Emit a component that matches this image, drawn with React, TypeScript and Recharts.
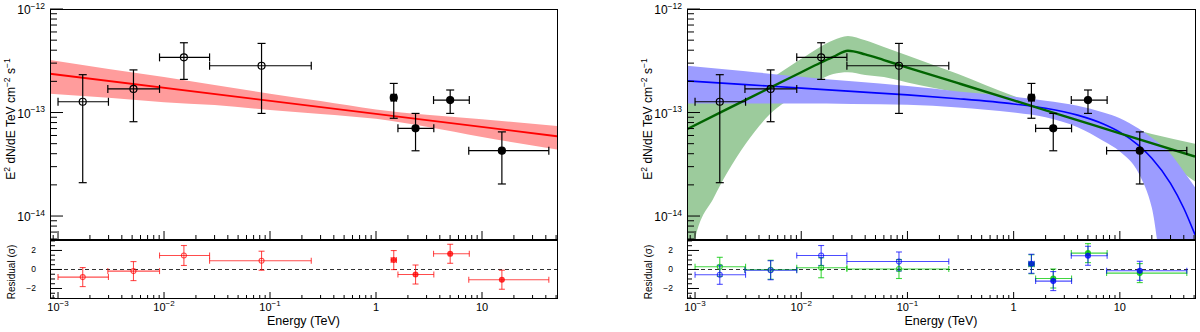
import React from 'react';
import { ComposedChart, Area, Line, Scatter, XAxis, YAxis, ErrorBar, ReferenceLine } from 'recharts';

const FONT = '"Liberation Sans", Arial, Helvetica, sans-serif';

// ---- flux points (energy in TeV, E^2 dN/dE in TeV cm^-2 s^-1) ----
const energy = [0.00171, 0.00515, 0.0154, 0.0832, 1.47, 2.36, 5.01, 15.4];
const energyLo = [0.001, 0.00295, 0.00907, 0.0269, 1.39, 1.61, 3.49, 7.5];
const energyHi = [0.00299, 0.00907, 0.0269, 0.245, 1.56, 3.51, 7.59, 42.7];
const flux = [1.27e-13, 1.69e-13, 3.41e-13, 2.83e-13, 1.39e-13, 7.03e-14, 1.32e-13, 4.28e-14];
const fluxLo = [2.1e-14, 8.15e-14, 2.09e-13, 9.8e-14, 8.8e-14, 4.27e-14, 9.8e-14, 2.04e-14];
const fluxHi = [2.32e-13, 2.58e-13, 4.72e-13, 4.65e-13, 1.91e-13, 9.8e-14, 1.65e-13, 6.5e-14];
const openMarker = [true, true, true, true, false, false, false, false];

// ---- residuals (sigma) ----
const resPowerLaw = [-0.8, -0.17, 1.47, 0.92, 0.99, -0.53, 1.65, -1.08];
const resCutoff = [-0.56, -0.08, 1.47, 0.84, 0.6, -1.22, 1.44, -0.14];
const resBroken = [0.28, -0.03, 0.18, 0.05, 0.55, -0.95, 1.72, -0.38];
const resSigma = [1, 1, 1.05, 1, 1, 1, 1, 1];

// ---- power law fit (left) ----
const plE = [0.00084, 51];
const plF = [2.37e-13, 5.9e-14];
const plBandE = [0.00084, 0.003, 0.01, 0.03, 0.1, 0.3, 1, 3, 10, 51];
const plBandLo = [1.52e-13, 1.39e-13, 1.26e-13, 1.18e-13, 1.06e-13, 9.7e-14, 8.7e-14, 7.3e-14, 5.8e-14, 4.4e-14];
const plBandHi = [3.22e-13, 2.63e-13, 2.2e-13, 1.84e-13, 1.52e-13, 1.29e-13, 1.07e-13, 9.5e-14, 8.6e-14, 7.4e-14];

// ---- power law with cutoff (right, blue) ----
const ecE = [0.00084, 0.003, 0.01, 0.03, 0.1, 0.3, 1, 2, 4, 7, 10, 15, 20, 30, 40, 51];
const ecF = [2.02e-13, 1.86e-13, 1.72e-13, 1.6e-13, 1.48e-13, 1.36e-13, 1.21e-13, 1.1e-13, 9.44e-14, 7.75e-14, 6.46e-14, 4.82e-14, 3.62e-14, 2.07e-14, 1.19e-14, 6.6e-15];
const ecBandLo = [1.22e-13, 1.22e-13, 1.22e-13, 1.21e-13, 1.19e-13, 1.12e-13, 1.0e-13, 9.0e-14, 7.2e-14, 5.3e-14, 4.2e-14, 2.6e-14, 1.2e-14, 1e-15, 1e-15, 1e-15];
const ecBandHi = [2.83e-13, 2.5e-13, 2.22e-13, 2.0e-13, 1.8e-13, 1.6e-13, 1.42e-13, 1.3e-13, 1.16e-13, 1.0e-13, 8.8e-14, 7.0e-14, 5.7e-14, 4.0e-14, 2.7e-14, 1.9e-14];

// ---- broken power law (right, green) ----
const bpE = [0.00084, 0.002, 0.005, 0.01, 0.015, 0.02, 0.0275, 0.04, 0.06, 0.1, 0.3, 1, 3, 10, 51];
const bpF = [6.9e-14, 1.08e-13, 1.72e-13, 2.45e-13, 3.01e-13, 3.45e-13, 3.95e-13, 3.65e-13, 3.21e-13, 2.72e-13, 1.92e-13, 1.31e-13, 9.23e-14, 6.3e-14, 3.75e-14];
const bpBandE = [0.00084, 0.001, 0.0015, 0.002, 0.003, 0.005, 0.01, 0.02, 0.0275, 0.04, 0.06, 0.1, 0.3, 1, 3, 10, 20, 51];
const bpBandLo = [2e-15, 6e-15, 1.5e-14, 2.6e-14, 5.0e-14, 9.5e-14, 1.58e-13, 2.35e-13, 2.45e-13, 2.3e-13, 2.2e-13, 1.95e-13, 1.55e-13, 1.19e-13, 8.2e-14, 5.2e-14, 4.0e-14, 2.15e-14];
const bpBandHi = [1.3e-13, 1.33e-13, 1.38e-13, 1.47e-13, 1.7e-13, 2.1e-13, 3.3e-13, 5.0e-13, 5.5e-13, 5.0e-13, 4.3e-13, 3.55e-13, 2.35e-13, 1.44e-13, 1.02e-13, 7.5e-14, 6.2e-14, 5.0e-14];

// ---- axes ----
const E_DOMAIN = [0.00084, 51];
const F_DOMAIN = [6e-15, 1e-12];
const R_DOMAIN = [-3, 3.1];
const energyDecades = [0.0001, 0.001, 0.01, 0.1, 1, 10];
const fluxDecades = [1e-15, 1e-14, 1e-13, 1e-12];
const mantissas = [1, 2, 3, 4, 5, 6, 7, 8, 9];
const resTicks = [-3, -2.5, -2, -1.5, -1, -0.5, 0, 0.5, 1, 1.5, 2, 2.5, 3];

const logTicks = (decades: number[], dom: number[]) =>
  decades
    .flatMap((d) => mantissas.map((m) => +(m * d).toPrecision(3)))
    .filter((v) => v >= dom[0] * 0.999 && v <= dom[1] * 1.001);
const energyTicks = logTicks(energyDecades, E_DOMAIN);
const fluxTicks = logTicks(fluxDecades, F_DOMAIN);

const isDecade = (v: number) => Math.abs(Math.log10(v) - Math.round(Math.log10(v))) < 1e-6;
const minus = (n: number) => (n < 0 ? '\u2212' + Math.abs(n) : String(n));

const PowerText = ({ x, y, exp, anchor, size, supSize }: any) => (
  <text x={x} y={y} textAnchor={anchor} fontFamily={FONT} fontSize={size} fill="#000">
    10
    <tspan dy={-size * 0.42} fontSize={supSize}>
      {minus(exp)}
    </tspan>
  </text>
);

const makeXTick = (withLabels: boolean, majorLen: number, minorLen: number) => (props: any) => {
  const { x, y, payload } = props;
  const v = payload.value;
  const major = isDecade(v);
  const exp = Math.round(Math.log10(v));
  return (
    <g>
      <line x1={x} x2={x} y1={y} y2={y - (major ? majorLen : minorLen)} stroke="#000" strokeWidth={1} />
      {withLabels && major && exp < 0 && (
        <PowerText x={x} y={y + 13} exp={exp} anchor="middle" size={11} supSize={8} />
      )}
      {withLabels && major && exp >= 0 && (
        <text x={x} y={y + 13} textAnchor="middle" fontFamily={FONT} fontSize={11} fill="#000">
          {exp === 0 ? '1' : '10'}
        </text>
      )}
    </g>
  );
};

const FluxTick = (props: any) => {
  const { x, y, payload } = props;
  const v = payload.value;
  const major = isDecade(v);
  return (
    <g>
      <line x1={x} x2={x + (major ? 13 : 7)} y1={y} y2={y} stroke="#000" strokeWidth={1} />
      {major && <PowerText x={x - 5} y={y + 5} exp={Math.round(Math.log10(v))} anchor="end" size={12} supSize={8.5} />}
    </g>
  );
};

const ResTick = (props: any) => {
  const { x, y, payload } = props;
  const v = payload.value;
  const major = Math.abs(v) <= 2 && Math.abs(v % 2) < 1e-9;
  return (
    <g>
      <line x1={x} x2={x + (major ? 12 : 5)} y1={y} y2={y} stroke="#000" strokeWidth={1} />
      {major && (
        <text x={x - 14} y={y + 3} textAnchor="end" fontFamily={FONT} fontSize={8.5} fill="#000">
          {minus(v)}
        </text>
      )}
    </g>
  );
};

const pointRows = energy.map((e, i) => ({
  e,
  f: flux[i],
  ex: [e - energyLo[i], energyHi[i] - e],
  ey: [flux[i] - fluxLo[i], fluxHi[i] - flux[i]],
  open: openMarker[i],
}));

const resRows = (vals: number[]) =>
  energy.map((e, i) => ({
    e,
    r: vals[i],
    ex: [e - energyLo[i], energyHi[i] - e],
    ey: [resSigma[i], resSigma[i]],
    open: openMarker[i],
  }));

const curveRows = (es: number[], fs: number[]) => es.map((e, i) => ({ e, f: fs[i] }));
const bandRows = (es: number[], lo: number[], hi: number[]) => es.map((e, i) => ({ e, band: [lo[i], hi[i]] }));

type Band = { rows: any[]; fill: string };
type Curve = { rows: any[]; color: string; width: number; type: 'linear' | 'monotone' };
type Res = { rows: any[]; color: string };

interface PanelProps {
  x0: number;
  plotLeft: number;
  plotRight: number;
  bands: Band[];
  curves: Curve[];
  residuals: Res[];
}

function Panel({ x0, plotLeft, plotRight, bands, curves, residuals }: PanelProps) {
  const rightMargin = 600 - plotRight;
  const marker = (color: string, r: number, sw: number) => (p: any) =>
    p.cx == null ? <g /> : (
      <circle cx={p.cx} cy={p.cy} r={r} fill={p.payload.open ? 'none' : color} stroke={color} strokeWidth={sw} />
    );

  return (
    <div style={{ position: 'absolute', left: x0, top: 0, width: 600, height: 332 }}>
      <div style={{ position: 'absolute', left: 0, top: 0 }}>
        <ComposedChart width={600} height={240} margin={{ top: 9, right: rightMargin, bottom: 0, left: 0 }}>
          <XAxis
            type="number"
            dataKey="e"
            scale="log"
            domain={E_DOMAIN}
            allowDataOverflow
            ticks={energyTicks}
            interval={0}
            tick={makeXTick(false, 8, 4)}
            tickLine={false}
            axisLine={false}
            tickSize={0}
            tickMargin={0}
            height={1}
          />
          <YAxis
            type="number"
            scale="log"
            domain={F_DOMAIN}
            allowDataOverflow
            ticks={fluxTicks}
            interval={0}
            tick={FluxTick}
            tickLine={false}
            axisLine={false}
            tickSize={0}
            tickMargin={0}
            width={plotLeft}
          />
          {bands.map((b, i) => (
            <Area
              key={'b' + i}
              data={b.rows}
              dataKey="band"
              type="monotone"
              stroke="none"
              fill={b.fill}
              fillOpacity={1}
              isAnimationActive={false}
            />
          ))}
          {curves.map((c, i) => (
            <Line
              key={'c' + i}
              data={c.rows}
              dataKey="f"
              type={c.type}
              stroke={c.color}
              strokeWidth={c.width}
              dot={false}
              isAnimationActive={false}
            />
          ))}
          <Scatter data={pointRows} dataKey="f" shape={marker('#000', 3.5, 1.2)} isAnimationActive={false}>
            <ErrorBar dataKey="ex" direction="x" width={4} stroke="#000" strokeWidth={1.2} />
            <ErrorBar dataKey="ey" direction="y" width={4} stroke="#000" strokeWidth={1.2} />
          </Scatter>
        </ComposedChart>
      </div>

      <div style={{ position: 'absolute', left: 0, top: 240 }}>
        <ComposedChart width={600} height={92} margin={{ top: 0, right: rightMargin, bottom: 0, left: 0 }}>
          <XAxis
            type="number"
            dataKey="e"
            scale="log"
            domain={E_DOMAIN}
            allowDataOverflow
            ticks={energyTicks}
            interval={0}
            tick={makeXTick(true, 6, 3)}
            tickLine={false}
            axisLine={false}
            tickSize={0}
            tickMargin={0}
            height={34}
          />
          <YAxis
            type="number"
            domain={R_DOMAIN}
            allowDataOverflow
            ticks={resTicks}
            interval={0}
            tick={ResTick}
            tickLine={false}
            axisLine={false}
            tickSize={0}
            tickMargin={0}
            width={plotLeft}
          />
          <ReferenceLine y={0} stroke="#333" strokeWidth={1.2} strokeDasharray="4 3" />
          {residuals.map((r, i) => (
            <Scatter key={'r' + i} data={r.rows} dataKey="r" shape={marker(r.color, 2.5, 1.1)} isAnimationActive={false}>
              <ErrorBar dataKey="ex" direction="x" width={3} stroke={r.color} strokeWidth={1.1} />
              <ErrorBar dataKey="ey" direction="y" width={3} stroke={r.color} strokeWidth={1.1} />
            </Scatter>
          ))}
        </ComposedChart>
      </div>

      {/* frames */}
      <div
        style={{
          position: 'absolute',
          left: plotLeft,
          top: 9,
          width: plotRight - plotLeft + 1,
          height: 231,
          border: '1px solid #000',
          boxSizing: 'border-box',
          pointerEvents: 'none',
        }}
      />
      <div
        style={{
          position: 'absolute',
          left: plotLeft,
          top: 240,
          width: plotRight - plotLeft + 1,
          height: 59,
          border: '1px solid #000',
          boxSizing: 'border-box',
          pointerEvents: 'none',
        }}
      />

      {/* axis titles */}
      <svg width={600} height={332} style={{ position: 'absolute', left: 0, top: 0, pointerEvents: 'none' }}>
        <text
          x={plotLeft - 35}
          y={119}
          transform={`rotate(-90 ${plotLeft - 35} 119)`}
          textAnchor="middle"
          fontFamily={FONT}
          fontSize={12}
          fill="#000"
        >
          E
          <tspan dy={-5} fontSize={8.5}>2</tspan>
          <tspan dy={5}> dN/dE TeV cm</tspan>
          <tspan dy={-5} fontSize={8.5}>{'\u22122'}</tspan>
          <tspan dy={5}> s</tspan>
          <tspan dy={-5} fontSize={8.5}>{'\u22121'}</tspan>
        </text>
        <text
          x={plotLeft - 35}
          y={272}
          transform={`rotate(-90 ${plotLeft - 35} 272)`}
          textAnchor="middle"
          fontFamily={FONT}
          fontSize={10}
          fill="#000"
        >
          Residual (σ)
        </text>
        <text x={(plotLeft + plotRight) / 2} y={325} textAnchor="middle" fontFamily={FONT} fontSize={12.5} fill="#000">
          Energy (TeV)
        </text>
      </svg>
    </div>
  );
}

export default function App() {
  return (
    <div style={{ position: 'absolute', left: 0, top: 0, width: 1200, height: 332, background: '#fff' }}>
      <Panel
        x0={0}
        plotLeft={50}
        plotRight={557}
        bands={[{ rows: bandRows(plBandE, plBandLo, plBandHi), fill: '#ff9c9c' }]}
        curves={[{ rows: curveRows(plE, plF), color: '#ff0000', width: 1.8, type: 'linear' }]}
        residuals={[{ rows: resRows(resPowerLaw), color: 'rgba(255,0,0,0.7)' }]}
      />
      <Panel
        x0={600}
        plotLeft={87}
        plotRight={595}
        bands={[
          { rows: bandRows(bpBandE, bpBandLo, bpBandHi), fill: '#9ccb9c' },
          { rows: bandRows(ecE, ecBandLo, ecBandHi), fill: '#9c9cff' },
        ]}
        curves={[
          { rows: curveRows(ecE, ecF), color: '#0000ff', width: 1.6, type: 'monotone' },
          { rows: curveRows(bpE, bpF), color: '#006400', width: 2.4, type: 'monotone' },
        ]}
        residuals={[
          { rows: resRows(resBroken), color: 'rgba(0,200,0,0.75)' },
          { rows: resRows(resCutoff), color: 'rgba(0,0,255,0.7)' },
        ]}
      />
    </div>
  );
}
